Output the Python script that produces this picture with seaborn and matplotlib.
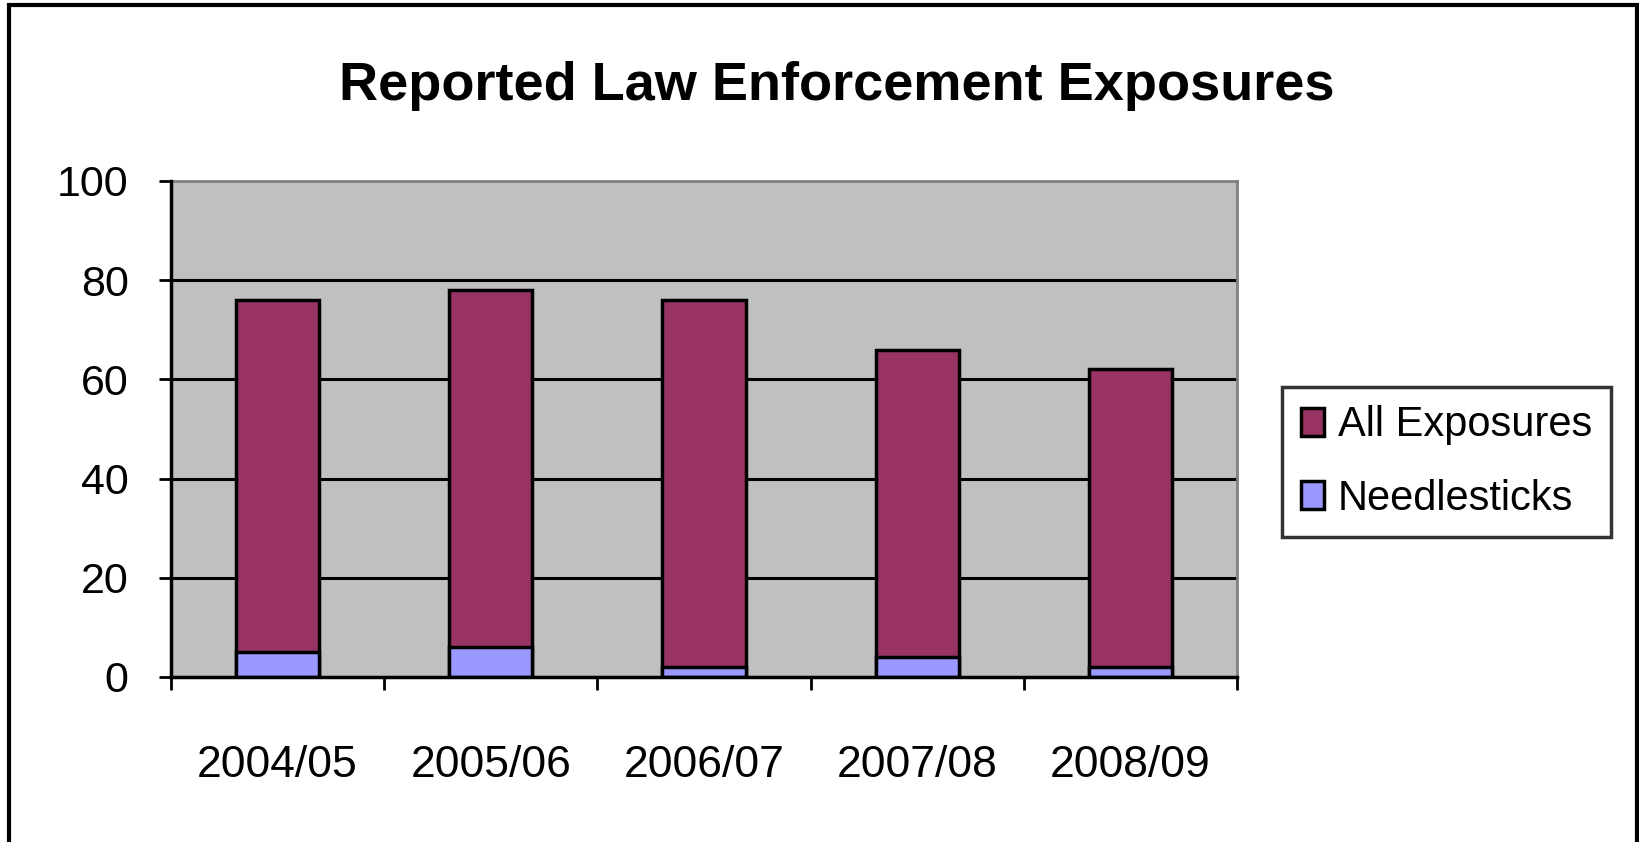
import matplotlib
matplotlib.use("Agg")
import matplotlib.pyplot as plt
from matplotlib.patches import Patch, Rectangle
from matplotlib.ticker import FixedLocator
import seaborn as sns
import pandas as pd

# ---- data ----
years = ["2004/05", "2005/06", "2006/07", "2007/08", "2008/09"]
all_exposures = [76, 78, 76, 66, 62]   # bar tops (total)
needlesticks = [5, 6, 2, 4, 2]
series_names = ["All Exposures", "Needlesticks"]
y_ticks = [0, 20, 40, 60, 80, 100]
title = "Reported Law Enforcement Exposures"

c_all = "#993366"
c_needle = "#9999FF"
c_bg = "#C0C0C0"

sns.set_theme(style="white")
plt.rcParams["font.family"] = ["Liberation Sans", "DejaVu Sans"]

W, H = 1640, 842
fig = plt.figure(figsize=(W / 100, H / 100), dpi=100)
fig.patch.set_facecolor("white")

ax = fig.add_axes([171 / W, 1 - 677 / H, (1237 - 171) / W, (677 - 181) / H])
ax.set_facecolor(c_bg)

df = pd.DataFrame({"year": years, "all": all_exposures, "needle": needlesticks})

sns.barplot(data=df, x="year", y="all", color=c_all, saturation=1, width=0.39,
            edgecolor="black", linewidth=2.5, ax=ax, zorder=3)
sns.barplot(data=df, x="year", y="needle", color=c_needle, saturation=1, width=0.39,
            edgecolor="black", linewidth=2.5, ax=ax, zorder=4)

ax.set_ylim(0, 100)
ax.set_xlim(-0.5, len(years) - 0.5)
ax.set_yticks(y_ticks)
ax.set_xlabel("")
ax.set_ylabel("")

# gridlines (not at 100)
for v in y_ticks[1:-1]:
    ax.axhline(v, color="black", lw=2.2, zorder=2)

for s in ["top", "right"]:
    ax.spines[s].set_color("#808080")
    ax.spines[s].set_linewidth(2)
for s in ["left", "bottom"]:
    ax.spines[s].set_color("black")
    ax.spines[s].set_linewidth(2.5)
    ax.spines[s].set_zorder(5)

ax.tick_params(axis="y", direction="out", length=8.5, width=2, color="black",
               labelsize=31, pad=22, left=True)
ax.tick_params(axis="x", which="major", length=0, labelsize=32, pad=49)
ax.xaxis.set_minor_locator(FixedLocator([i - 0.5 for i in range(len(years) + 1)]))
ax.tick_params(axis="x", which="minor", direction="out", length=9, width=2,
               color="black", bottom=True)
for lab in ax.get_xticklabels() + ax.get_yticklabels():
    lab.set_color("black")

fig.text(836.5 / W, 1 - 86 / H, title, ha="center", va="center",
         fontsize=39, fontweight="bold", color="black")

handles = [Patch(facecolor=c_all, edgecolor="black", linewidth=2.5),
           Patch(facecolor=c_needle, edgecolor="black", linewidth=2.5)]
leg = fig.legend(handles, series_names, loc="center",
                 bbox_to_anchor=(1446.5 / W, 1 - 462 / H),
                 fontsize=30, frameon=True, fancybox=False, shadow=False,
                 handlelength=0.55, handleheight=0.65, handletextpad=0.35,
                 labelspacing=0.8, borderpad=0.45, borderaxespad=0)
leg.get_frame().set_edgecolor("black")
leg.get_frame().set_linewidth(2.5)
leg.get_frame().set_facecolor("white")
for t in leg.get_texts():
    t.set_color("black")

# outer figure border
fig.patches.append(Rectangle((9 / W, -0.02), (1637 - 9) / W, 1 - 5 / H + 0.02,
                             transform=fig.transFigure, fill=False,
                             edgecolor="black", linewidth=3))

fig.savefig("out.png", dpi=100)
